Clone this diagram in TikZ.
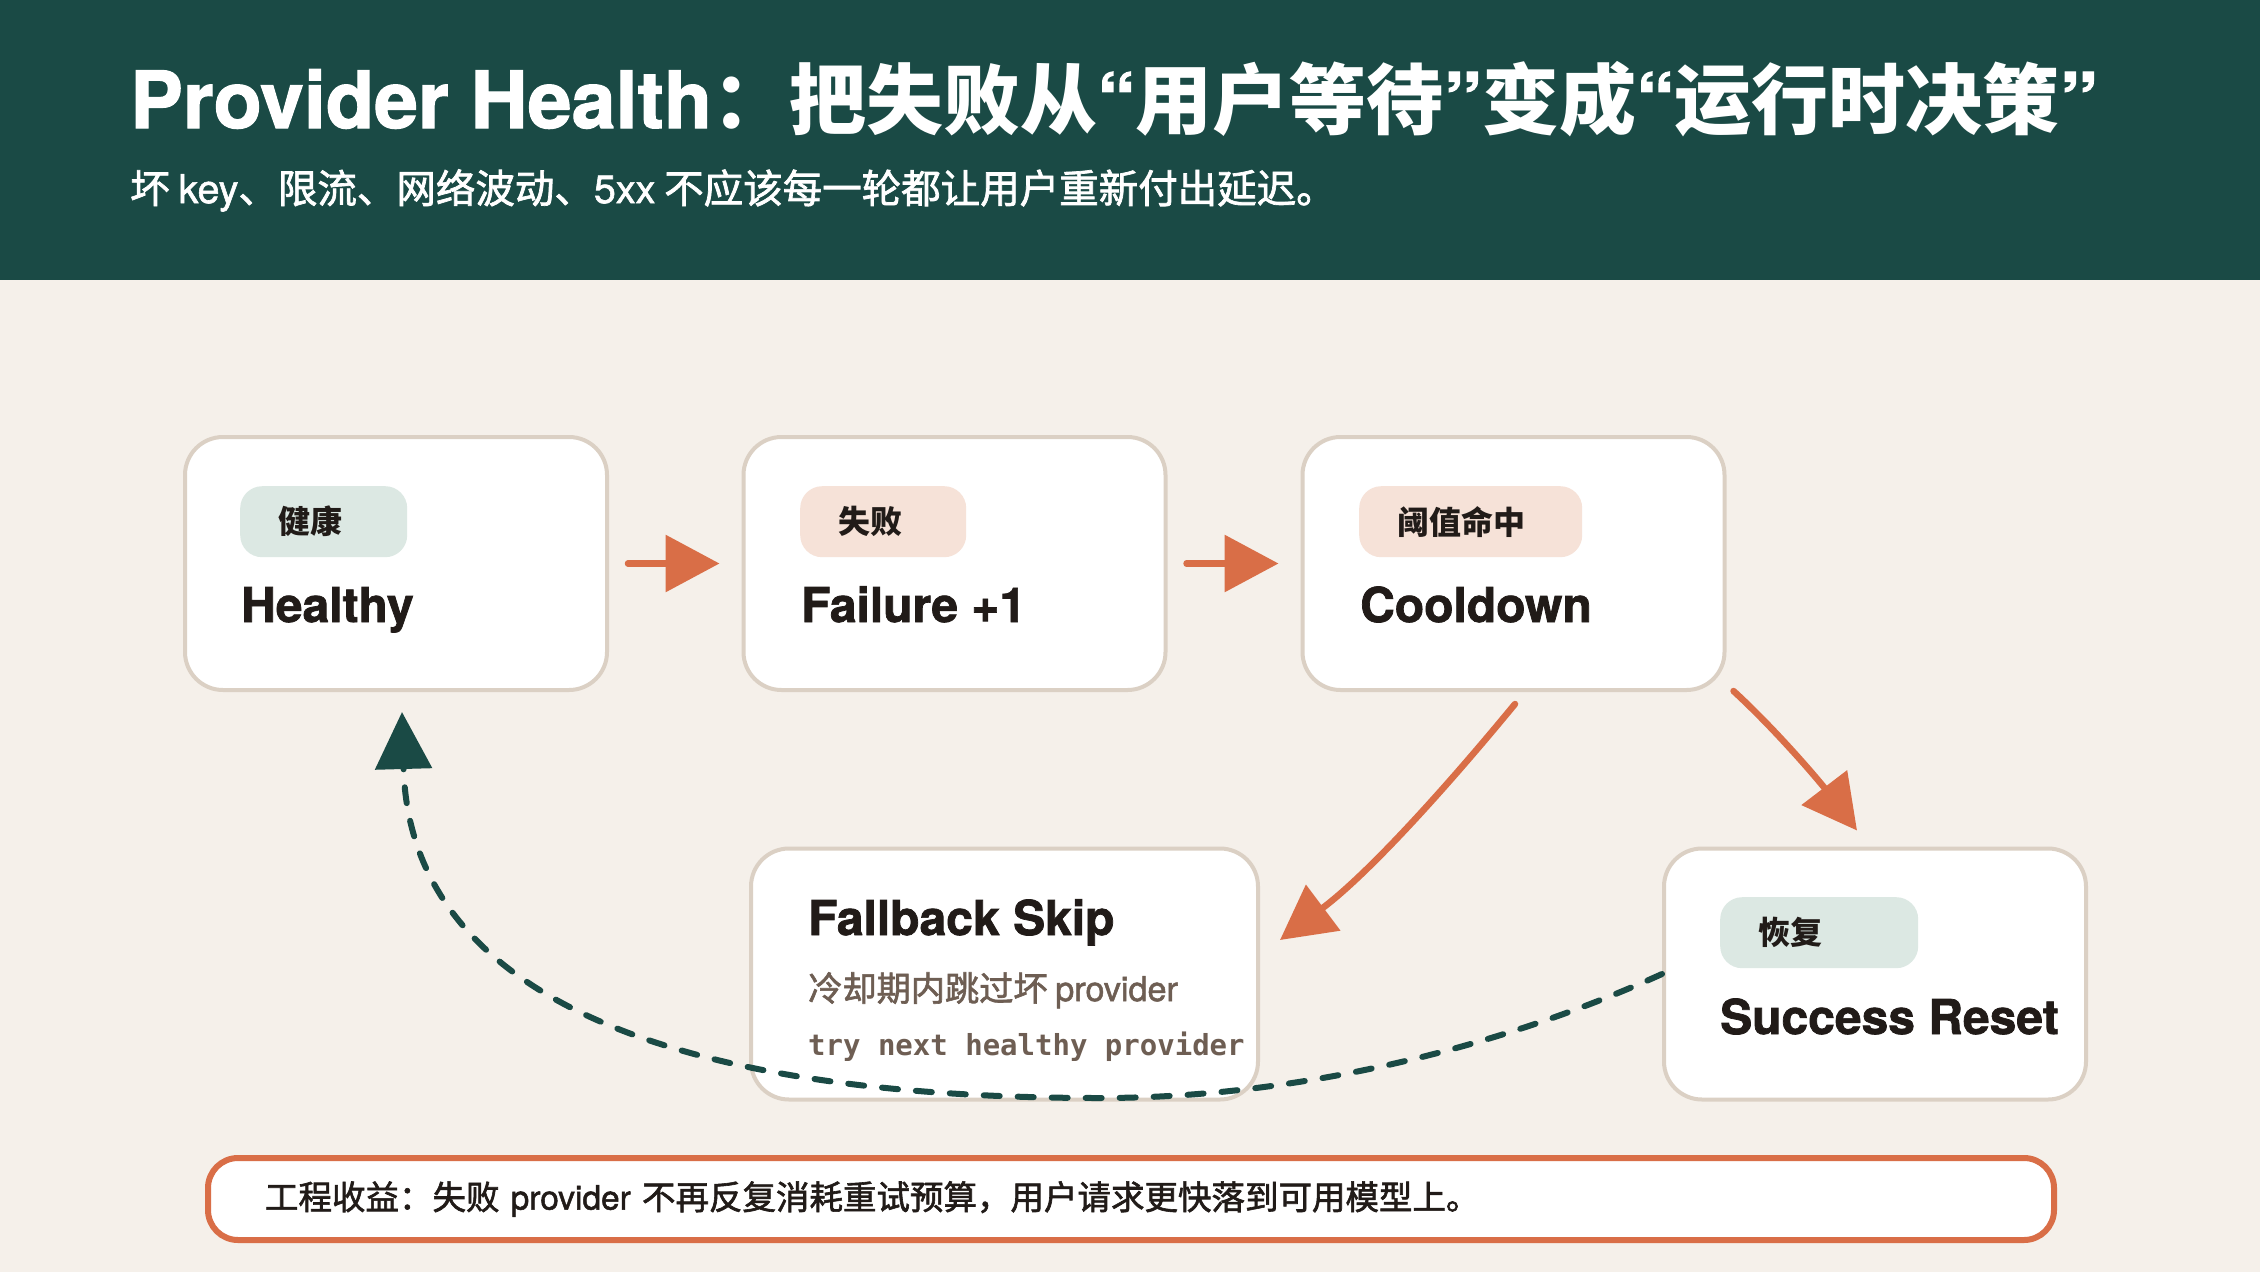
\documentclass[tikz,border=0pt]{standalone}
\usepackage{fontspec}
\setmainfont{Noto Sans CJK SC}
\newfontfamily\enfont{TeX Gyre Heros}[BoldFeatures={FakeBold=1.5}]
\newfontfamily\enmed{TeX Gyre Heros}[FakeBold=1.5]
\newfontfamily\codefont{DejaVu Sans Mono}
\newfontfamily\zhmed{Noto Sans CJK SC}[FakeBold=1.8]
\usetikzlibrary{arrows.meta}
\definecolor{headgreen}{HTML}{1A4A45}
\definecolor{paper}{HTML}{F5F0EA}
\definecolor{cardline}{HTML}{DBD0C4}
\definecolor{accent}{HTML}{D96E47}
\definecolor{tagG}{HTML}{DCE8E3}
\definecolor{tagP}{HTML}{F6E2D8}
\definecolor{ink}{HTML}{211B18}
\definecolor{brown}{HTML}{6E5E53}
\tikzset{
	card/.style 2 args={draw=cardline, line width=4pt, fill=white, rounded corners=38pt, minimum width=#1, minimum height=#2, inner sep=0pt},
	pill/.style 2 args={fill=#1, rounded corners=22pt, minimum height=71pt, text width=#2, inner xsep=38pt, inner ysep=0pt, align=left, anchor=north west, text=ink, font=\fontsize{32}{38}\selectfont\bfseries},
	cardtitle/.style={anchor=base west, inner sep=0pt, text=ink, font=\fontsize{48}{56}\selectfont\enfont\bfseries},
	flow/.style={draw=accent, line width=6.5pt, line cap=round, -{Triangle[length=54pt,width=56pt]}},
	back/.style={draw=headgreen, line width=6pt, line cap=round, dash pattern=on 16pt off 18pt, -{Triangle[length=57pt,width=56pt]}}
}
\newcommand\openq{{\enfont\bfseries “}}
\newcommand\closeq{{\enfont\bfseries ”}}
\begin{document}
\begin{tikzpicture}[x=1pt,y=-1pt]
		\useasboundingbox (0,0) rectangle (2260,1272);
		\fill[paper] (0,0) rectangle (2260,1272);
		\fill[headgreen] (0,0) rectangle (2260,280);
		% header
		\node[anchor=base west, inner sep=0pt, text=white, font=\fontsize{77}{90}\selectfont\bfseries] (title) at (130,128) {{\fontsize{79}{90}\selectfont\enfont Provider Health}：把失败从\openq 用户等待\closeq 变成\openq 运行时决策\closeq};
		\node[anchor=base west, inner sep=0pt, text=white, font=\fontsize{39.5}{46}\selectfont\zhmed] (subtitle) at (130,203) {坏 {\enmed key}、限流、网络波动、{\enmed 5xx} 不应该每一轮都让用户重新付出延迟。};
		% states
		\node[card={422pt}{253pt}] (healthy) at (396,563.5) {};
		\node[card={422pt}{253pt}] (failure) at (954.5,563.5) {};
		\node[card={422pt}{253pt}] (cooldown) at (1513.5,563.5) {};
		\node[card={507pt}{251pt}] (fallback) at (1004.5,974) {};
		\node[card={422pt}{251pt}] (success) at (1875,974) {};
		\node[pill={tagG}{91pt}] (healthytag) at (240,486) {健康};
		\node[pill={tagP}{90pt}] (failuretag) at (800,486) {失败};
		\node[pill={tagP}{147pt}] (cooldowntag) at (1359,486) {阈值命中};
		\node[pill={tagG}{122pt}] (successtag) at (1720,897) {恢复};
		\node[cardtitle] (healthyname) at (241,622) {Healthy};
		\node[cardtitle] (failurename) at (801,622) {Failure +1};
		\node[cardtitle] (cooldownname) at (1360,622) {Cooldown};
		\node[cardtitle] (fallbackname) at (808,935) {Fallback Skip};
		\node[cardtitle] (successname) at (1720,1034) {Success Reset};
		\node[anchor=base west, inner sep=0pt, text=brown, font=\fontsize{34.2}{40}\selectfont\zhmed] (fallbacknote) at (808,1001) {冷却期内跳过坏 {\enmed provider}};
		\node[anchor=base west, inner sep=0pt, text=brown, font=\fontsize{29}{34}\selectfont\codefont\bfseries] (fallbackcode) at (808,1055) {try next healthy provider};
		% transitions
		\draw[flow, shorten <=19pt, shorten >=22pt] (healthy) -- (failure);
		\draw[flow, shorten <=19pt, shorten >=22pt] (failure) -- (cooldown);
		\draw[flow] ([shift={(1.5,12)}]cooldown.south) .. controls (1445,789) and (1368,874) .. ([shift={(20,-34)}]fallback.east);
		\draw[flow] ([shift={(7,-1)}]cooldown.south east) .. controls (1777,731) and (1820,782) .. ([shift={(-18,-16)}]success.north);
		\coordinate (low) at (1100,1098);
		\draw[back] (success.west) .. controls (1492,1051) and (1290,1098) .. (low) .. controls (680,1098) and (410,1000) .. ([shift={(6,20)}]healthy.south);
		% gain
		\node[draw=accent, line width=6pt, fill=white, rounded corners=30pt, minimum width=1846pt, minimum height=82pt, text width=1732pt, inner xsep=57pt, align=left, text=ink, font=\fontsize{33.5}{40}\selectfont\zhmed] (gain) at (1131,1199) {工程收益：失败 {\enmed provider} 不再反复消耗重试预算，用户请求更快落到可用模型上。};
\end{tikzpicture}
\end{document}
